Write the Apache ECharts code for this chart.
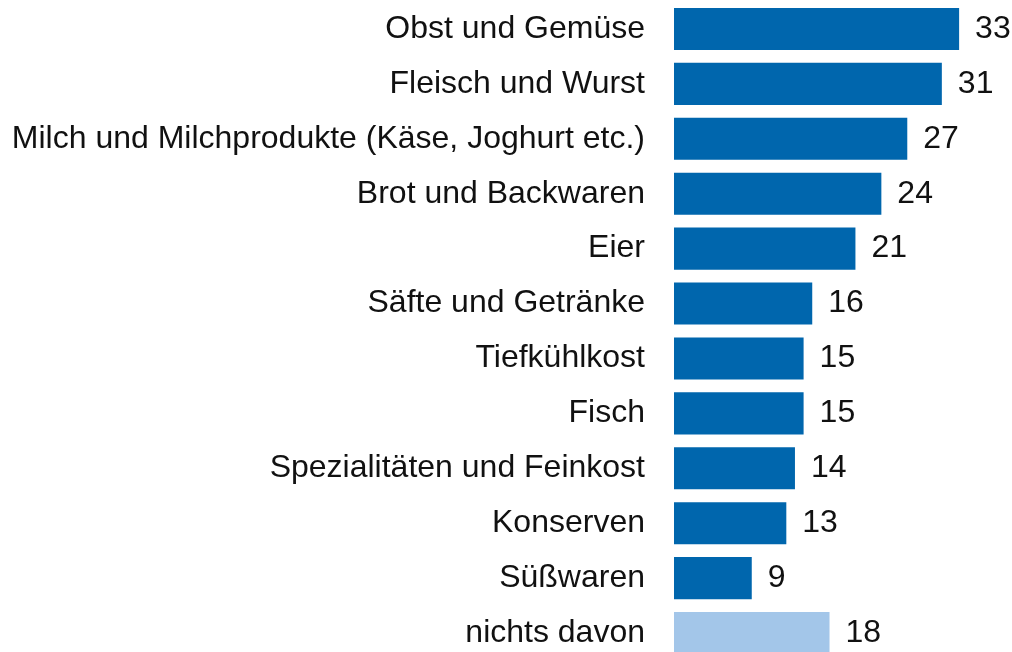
<!DOCTYPE html>
<html style="height: 100%">
<head>
    <meta charset="utf-8">
</head>
<body style="height: 100%; margin: 0; background: #fff">
<div id="container" style="width: 1012px; height: 652px"></div>

<script type="text/javascript" src="https://cdn.jsdelivr.net/npm/echarts@6/dist/echarts.min.js"></script>
<script type="text/javascript">
    // data, top to bottom
    var categories = [
        'Obst und Gemüse',
        'Fleisch und Wurst',
        'Milch und Milchprodukte (Käse, Joghurt etc.)',
        'Brot und Backwaren',
        'Eier',
        'Säfte und Getränke',
        'Tiefkühlkost',
        'Fisch',
        'Spezialitäten und Feinkost',
        'Konserven',
        'Süßwaren',
        'nichts davon'
    ];
    var values = [33, 31, 27, 24, 21, 16, 15, 15, 14, 13, 9, 18];
    var highlight = ['nichts davon'];

    var dark = '#0066ad';
    var light = '#a3c6e9';

    var dom = document.getElementById('container');
    var myChart = echarts.init(dom, null, {renderer: 'canvas'});

    var option = {
        animation: false,
        grid: {
            left: 674,
            top: 1.5,
            width: 345.6,
            height: 659,
            containLabel: false,
            outerBoundsMode: 'none'
        },
        xAxis: {
            type: 'value',
            min: 0,
            max: 40,
            show: false
        },
        yAxis: {
            type: 'category',
            inverse: true,
            data: categories,
            axisLine: {show: false},
            axisTick: {show: false},
            axisLabel: {
                margin: 29,
                fontFamily: 'Liberation Sans, Arial, sans-serif',
                fontSize: 32,
                color: '#111'
            }
        },
        series: [{
            type: 'bar',
            barCategoryGap: '23.5%',
            data: values.map(function (v, i) {
                return {
                    value: v,
                    itemStyle: {color: highlight.indexOf(categories[i]) >= 0 ? light : dark}
                };
            }),
            label: {
                show: true,
                position: 'right',
                distance: 16,
                fontFamily: 'Liberation Sans, Arial, sans-serif',
                fontSize: 32,
                color: '#111'
            }
        }]
    };

    if (option && typeof option === 'object') {
        myChart.setOption(option);
    }
</script>
</body>
</html>
